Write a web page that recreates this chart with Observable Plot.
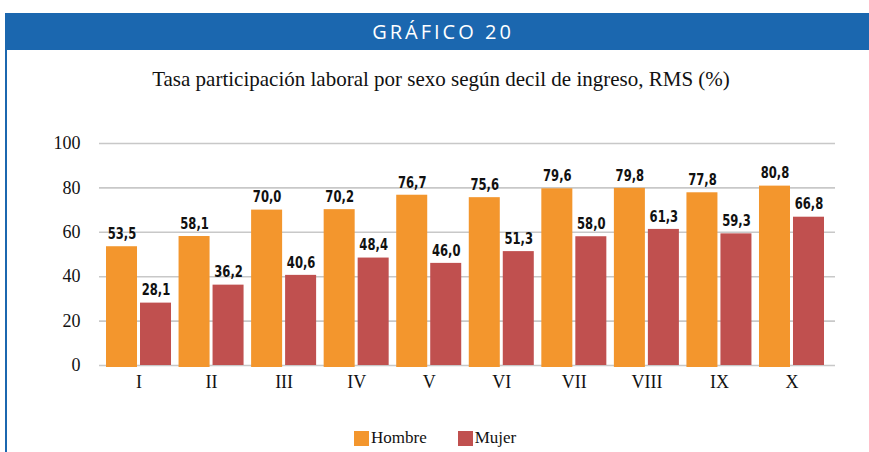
<!DOCTYPE html>
<html>
<head>
<meta charset="utf-8">
<script src="https://cdn.jsdelivr.net/npm/d3@7"></script>
<script src="https://cdn.jsdelivr.net/npm/@observablehq/plot@0.6"></script>
<style>
  body { margin: 0; background: #fff; }
  #wrap { position: relative; width: 869px; height: 452px; overflow: hidden; background: #fff; }
  #header { position: absolute; left: 5px; top: 13px; width: 864px; height: 37px; background: #1B67AF;
            color: #fff; font-family: "Open Sans", "Noto Sans", sans-serif; font-size: 20px; letter-spacing: 3px;
            line-height: 37px; text-align: center; box-sizing: border-box; padding-left: 12px; }
  #leftline { position: absolute; left: 5px; top: 50px; width: 2px; height: 402px; background: #1B67AF; }
  #title { position: absolute; left: 0; top: 67px; width: 869px; text-align: center; box-sizing: border-box; padding-left: 13px;
           font-family: "Liberation Serif", "Times New Roman", "DejaVu Serif", serif; font-size: 21px; color: #111; }
  #chart { position: absolute; left: 0; top: 110px; }
  #chart svg { font-family: "Liberation Serif", "Times New Roman", serif !important; font-size: 18px !important; }
  #legend { position: absolute; top: 428px; left: 354px; font-family: "Liberation Serif", "Times New Roman", serif; font-size: 17px; color: #111; display: flex; }
  .item { display: flex; align-items: center; margin-right: 31px; }
  .sw { width: 15px; height: 15px; margin-right: 2px; }
</style>
</head>
<body>
<div id="wrap">
  <div id="header">GRÁFICO 20</div>
  <div id="leftline"></div>
  <div id="title">Tasa participación laboral por sexo según decil de ingreso, RMS (%)</div>
  <div id="chart"></div>
  <div id="legend"></div>
</div>
<script>
const deciles = ["I","II","III","IV","V","VI","VII","VIII","IX","X"];
const hombre = [53.5, 58.1, 70.0, 70.2, 76.7, 75.6, 79.6, 79.8, 77.8, 80.8];
const mujer  = [28.1, 36.2, 40.6, 48.4, 46.0, 51.3, 58.0, 61.3, 59.3, 66.8];
const series = ["Hombre", "Mujer"];
const colors = ["#F3962D", "#C0504F"];
const yTicks = [0, 20, 40, 60, 80, 100];

const dataH = deciles.map((d, i) => ({decil: d, sexo: "Hombre", valor: hombre[i]}));
const dataM = deciles.map((d, i) => ({decil: d, sexo: "Mujer", valor: mujer[i]}));
const fmt = v => v.toFixed(1).replace(".", ",");

const barW = 31, gap = 3;
const labelFont = "DejaVu Sans Condensed";

const chart = Plot.plot({
  width: 869,
  height: 290,
  marginLeft: 99,
  marginRight: 38,
  marginTop: 33,
  marginBottom: 35,
  style: {color: "#111", background: "transparent"},
  x: {domain: deciles, paddingInner: 0.104, paddingOuter: 0.0965, round: false, label: null, tickSize: 0, tickPadding: 10},
  y: {domain: [0, 100], ticks: yTicks, label: null, tickSize: 0, tickPadding: 19},
  color: {domain: series, range: colors},
  marks: [
    Plot.ruleY(yTicks, {stroke: "#C8C8C8", strokeWidth: 1.6, insetRight: -4}),
    Plot.barY(dataH, {x: "decil", y: "valor", fill: d => d.sexo, insetRight: 65 - barW, insetBottom: -2}),
    Plot.barY(dataM, {x: "decil", y: "valor", fill: d => d.sexo, insetLeft: 65 - barW}),
    Plot.text(dataH, {x: "decil", y: "valor", text: d => fmt(d.valor), dx: -(barW + gap) / 2, dy: -13,
      fontFamily: labelFont, fontWeight: "bold", fontSize: 16.5, fill: "#111"}),
    Plot.text(dataM, {x: "decil", y: "valor", text: d => fmt(d.valor), dx: (barW + gap) / 2, dy: -13,
      fontFamily: labelFont, fontWeight: "bold", fontSize: 16.5, fill: "#111"})
  ]
});
document.getElementById("chart").appendChild(chart);

// condense the value labels horizontally (the reference uses a condensed face)
chart.querySelectorAll('g[aria-label="text"] text').forEach(t => {
  const w = t.getComputedTextLength();
  t.setAttribute("textLength", (w * 0.78).toFixed(1));
  t.setAttribute("lengthAdjust", "spacingAndGlyphs");
});

const legend = document.getElementById("legend");
series.forEach((s, i) => {
  const it = document.createElement("div");
  it.className = "item";
  it.innerHTML = `<span class="sw" style="background:${colors[i]}"></span><span>${s}</span>`;
  legend.appendChild(it);
});
</script>
</body>
</html>
